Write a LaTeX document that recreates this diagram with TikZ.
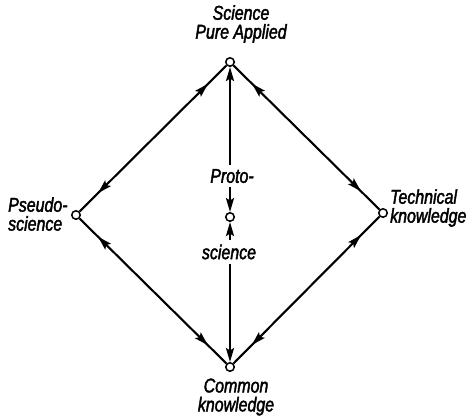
\documentclass[tikz,border=0pt]{standalone}
\usepackage{fontspec}
\newfontfamily\labfont[FakeStretch=0.8,ItalicFeatures={FakeBold=2}]{Liberation Sans}
\usetikzlibrary{arrows.meta,decorations.markings}
\tikzset{
  myhead/.tip={Stealth[length=14bp,width=8bp,inset=2.5bp]},
}
\begin{document}
\begin{tikzpicture}[x=1bp,y=-1bp,
  lab/.style={font=\labfont\itshape\fontsize{20}{19}\selectfont, inner sep=0pt},
  dot/.style={circle,draw,line width=1.5bp,fill=white,minimum size=8.5bp,inner sep=0pt},
  con/.style={line width=2.1bp},
  tipped/.style={con,-{myhead}},
  twoway/.style={con, postaction=decorate, decoration={markings,
     mark=at position 26bp with {\arrowreversed{myhead}},
     mark=at position -26bp with {\arrow{myhead}}}}
]
\useasboundingbox (0,0) rectangle (472,419);

% junction circles
\node[dot] (T) at (230,62) {};
\node[dot] (L) at (76,215) {};
\node[dot] (R) at (383,213) {};
\node[dot] (B) at (230,367) {};
\node[dot] (C) at (230,217) {};

% labels
\node[lab, align=center] (sci) at (241,24) {Science\\Pure Applied};
\node[lab, align=left, anchor=west] (pseudo) at (8,214) {Pseudo-\\science};
\node[lab, align=left, anchor=west] (tech) at (390,208) {Technical\\knowledge};
\node[lab, align=center] (common) at (236,397) {Common\\knowledge};
\node[lab, inner sep=4bp] (proto) at (232,176) {Proto-};
\node[lab, inner sep=4bp] (psci) at (229,252) {science};

% connectors
\draw[twoway] (T) -- (L);
\draw[twoway] (T) -- (R);
\draw[twoway] (L) -- (B);
\draw[twoway] (R) -- (B);

\draw[tipped] (proto.north -| T) -- (T);
\draw[tipped] (proto.south -| C) -- (C);
\draw[tipped] (psci.north -| C) -- (C);
\draw[tipped] (psci.south -| B) -- (B);
\end{tikzpicture}
\end{document}
